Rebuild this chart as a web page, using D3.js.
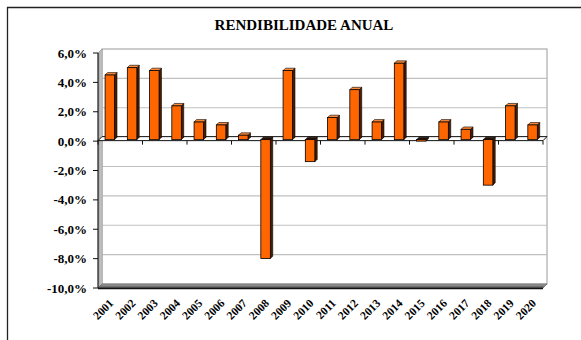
<!DOCTYPE html>
<html>
<head>
<meta charset="utf-8">
<script src="https://cdn.jsdelivr.net/npm/d3@7"></script>
<style>
  html, body { margin: 0; padding: 0; background: #fff; }
  svg { display: block; }
  text { font-family: "Liberation Serif", "Times New Roman", serif; font-weight: bold; fill: #000; }
</style>
</head>
<body>
<svg id="chart" width="581" height="340"></svg>
<script>
// Annual returns (%) by year
const years = ["2001","2002","2003","2004","2005","2006","2007","2008","2009","2010",
               "2011","2012","2013","2014","2015","2016","2017","2018","2019","2020"];
const returns = [4.4, 4.9, 4.7, 2.3, 1.2, 1.0, 0.3, -8.1, 4.7, -1.5,
                 1.5, 3.4, 1.2, 5.2, -0.1, 1.2, 0.7, -3.1, 2.3, 1.0];
const yTicks = [-10, -8, -6, -4, -2, 0, 2, 4, 6];
const chartTitle = "RENDIBILIDADE ANUAL";

const svg = d3.select("#chart");

// Front plane of the 3D plot box; the back wall is offset by (depth, -depth)
const plotL = 98, plotR = 543, plotT = 53, plotB = 288;
const depth = 4;

const x = d3.scaleBand().domain(years).range([plotL, plotR]).paddingInner(0).paddingOuter(0);
const y = d3.scaleLinear().domain([-10, 6]).range([plotB, plotT]);
const fmt = v => d3.format(".1f")(v).replace(".", ",").replace("−", "-") + "%";

// Outer chart frame
svg.append("path")
  .attr("d", `M7.5,340 L7.5,7.5 L581,7.5`)
  .attr("fill", "none").attr("stroke", "#222").attr("stroke-width", 1.3);

// Title
svg.append("text")
  .attr("x", 304).attr("y", 29.5)
  .attr("text-anchor", "middle")
  .style("font-size", "15px")
  .text(chartTitle);

// Back wall
svg.append("rect")
  .attr("x", plotL + depth).attr("y", plotT - depth)
  .attr("width", plotR - plotL).attr("height", plotB - plotT)
  .attr("fill", "#fff").attr("stroke", "#9a9a9a").attr("stroke-width", 1);

// Gridlines on the back wall
svg.append("g").selectAll("line")
  .data(yTicks.filter(v => v > -10 && v < 6))
  .join("line")
  .attr("x1", plotL + depth).attr("x2", plotR + depth)
  .attr("y1", d => y(d) - depth).attr("y2", d => y(d) - depth)
  .attr("stroke", "#c0c0c0").attr("stroke-width", 1.2);

// Left side wall
const defs = svg.append("defs");
const sideGrad = defs.append("linearGradient").attr("id", "sideGrad")
  .attr("x1", "0").attr("x2", "1").attr("y1", "0").attr("y2", "0");
sideGrad.append("stop").attr("offset", "0%").attr("stop-color", "#9c9c9c");
sideGrad.append("stop").attr("offset", "100%").attr("stop-color", "#d4d4d4");
svg.append("path")
  .attr("d", `M${plotL},${plotT} L${plotL + depth},${plotT - depth} L${plotL + depth},${plotB - depth} L${plotL},${plotB} Z`)
  .attr("fill", "url(#sideGrad)").attr("stroke", "#8a8a8a").attr("stroke-width", 0.6);

// Floor
const floorGrad = defs.append("linearGradient").attr("id", "floorGrad")
  .attr("x1", "0").attr("x2", "0").attr("y1", "0").attr("y2", "1");
floorGrad.append("stop").attr("offset", "0%").attr("stop-color", "#a8a8a8");
floorGrad.append("stop").attr("offset", "100%").attr("stop-color", "#505050");
svg.append("path")
  .attr("d", `M${plotL},${plotB} L${plotL + depth},${plotB - depth} L${plotR + depth},${plotB - depth} L${plotR},${plotB} Z`)
  .attr("fill", "url(#floorGrad)").attr("stroke", "#555").attr("stroke-width", 0.6);
svg.append("line")
  .attr("x1", plotL).attr("x2", plotR)
  .attr("y1", plotB + 0.5).attr("y2", plotB + 0.5)
  .attr("stroke", "#111").attr("stroke-width", 1.6);

// Zero plane (category axis)
const y0 = y(0) - 0.5;
svg.append("path")
  .attr("d", `M${plotL},${y0} L${plotL + depth},${y0 - depth} L${plotR + depth},${y0 - depth} L${plotR},${y0} Z`)
  .attr("fill", "#fff").attr("stroke", "#111").attr("stroke-width", 1);

// Bars: front face, side face and top face
const barW = 9.5, bd = 2.4;
const bars = svg.append("g").selectAll("g")
  .data(years.map((yr, i) => ({ yr, v: returns[i] })))
  .join("g");

bars.each(function (d) {
  const g = d3.select(this);
  const xf = x(d.yr) + x.bandwidth() / 2 - barW / 2 + 0.7;
  const yz = y(0) - 1.5;
  const yv = y(d.v) - 1.5;
  const yt = Math.min(yz, yv), yb = Math.max(yz, yv);
  // side face
  g.append("path")
    .attr("d", `M${xf + barW},${yt} L${xf + barW + bd},${yt - bd} L${xf + barW + bd},${yb - bd} L${xf + barW},${yb} Z`)
    .attr("fill", "#4a1d00").attr("stroke", "#000").attr("stroke-width", 0.6);
  // top face
  g.append("path")
    .attr("d", `M${xf},${yt} L${xf + bd},${yt - bd} L${xf + barW + bd},${yt - bd} L${xf + barW},${yt} Z`)
    .attr("fill", d.v >= 0 ? "#ff8a3a" : "#2a1000").attr("stroke", "#000").attr("stroke-width", 0.6);
  // front face
  g.append("rect")
    .attr("x", xf).attr("y", yt)
    .attr("width", barW).attr("height", Math.max(0.5, yb - yt))
    .attr("fill", "#ff6600").attr("stroke", "#000").attr("stroke-width", 0.8);
});

// Value axis
const yAxis = svg.append("g");
yAxis.append("line")
  .attr("x1", plotL).attr("x2", plotL).attr("y1", plotT).attr("y2", plotB)
  .attr("stroke", "#111").attr("stroke-width", 1);
yAxis.selectAll("line.tick")
  .data(yTicks).join("line").attr("class", "tick")
  .attr("x1", plotL - 5).attr("x2", plotL)
  .attr("y1", d => y(d)).attr("y2", d => y(d))
  .attr("stroke", "#111").attr("stroke-width", 1);
yAxis.selectAll("text")
  .data(yTicks).join("text")
  .attr("x", 87).attr("y", d => y(d))
  .attr("dy", "0.35em")
  .attr("text-anchor", "end")
  .style("font-size", "13px")
  .text(fmt);

// Category axis ticks every two years
const tickPos = d3.range(0, years.length + 1, 2).map(i => plotL + i * x.step());
svg.append("g").selectAll("line")
  .data(tickPos).join("line")
  .attr("x1", d => d).attr("x2", d => d)
  .attr("y1", y0).attr("y2", y0 + 4)
  .attr("stroke", "#111").attr("stroke-width", 1);

// Category labels, rotated
svg.append("g").selectAll("text")
  .data(years).join("text")
  .attr("transform", d => `translate(${x(d) + x.bandwidth() / 2 + 5},${304}) rotate(-45)`)
  .attr("text-anchor", "end")
  .style("font-size", "11.5px")
  .text(d => d);
</script>
</body>
</html>
